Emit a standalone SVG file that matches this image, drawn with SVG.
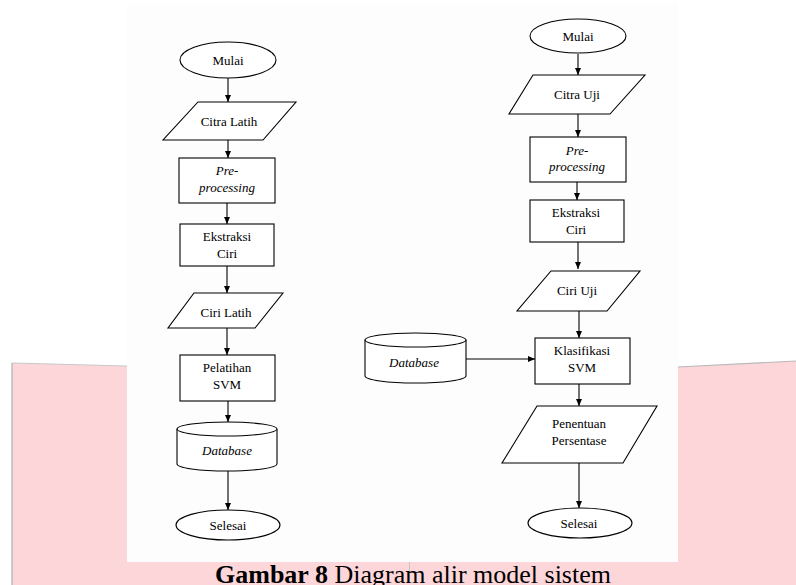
<svg xmlns="http://www.w3.org/2000/svg" width="796" height="585" viewBox="0 0 796 585">
<style>
.s{fill:#fff;stroke:#000;stroke-width:1.1}
.c{fill:none;stroke:#000;stroke-width:1.1}
</style>
<defs>
<marker id="ah" markerUnits="userSpaceOnUse" markerWidth="8" markerHeight="7" refX="7" refY="3" orient="auto">
<path d="M0,0 L7,3 L0,6 z" fill="#000"/>
</marker>
</defs>
<rect x="0" y="0" width="796" height="585" fill="#fff"/>
<g id="page-bg">
<polygon points="12,363 127,366 678,367 796,361 796,585 12,585" fill="#fdd6da"/>
<line x1="12" y1="363" x2="12" y2="585" stroke="#bdbdbd" stroke-width="1.5"/>
<line x1="12" y1="363" x2="127" y2="366" stroke="#c8c8c8" stroke-width="1.2"/>
<line x1="678" y1="367" x2="796" y2="361" stroke="#b8b8b8" stroke-width="1.2"/>
<rect x="127" y="3" width="551" height="559" fill="#fdfdfd"/>
<line x1="409.5" y1="562" x2="409.5" y2="580" stroke="#c4c4c4" stroke-width="1"/>
</g>
<g id="connectors">
<line class="c" x1="228" y1="78" x2="228" y2="102" marker-end="url(#ah)"/>
<line class="c" x1="228" y1="140" x2="228" y2="158" marker-end="url(#ah)"/>
<line class="c" x1="227" y1="203" x2="227" y2="224" marker-end="url(#ah)"/>
<line class="c" x1="227" y1="266" x2="227" y2="293" marker-end="url(#ah)"/>
<line class="c" x1="227" y1="328" x2="227" y2="355" marker-end="url(#ah)"/>
<line class="c" x1="228" y1="401" x2="228" y2="422" marker-end="url(#ah)"/>
<line class="c" x1="228" y1="471" x2="228" y2="510" marker-end="url(#ah)"/>
<line class="c" x1="578" y1="54" x2="578" y2="75" marker-end="url(#ah)"/>
<line class="c" x1="578" y1="114" x2="578" y2="137" marker-end="url(#ah)"/>
<line class="c" x1="577" y1="182" x2="577" y2="200" marker-end="url(#ah)"/>
<line class="c" x1="578" y1="242" x2="578" y2="269" marker-end="url(#ah)"/>
<line class="c" x1="579" y1="311" x2="579" y2="338" marker-end="url(#ah)"/>
<line class="c" x1="579" y1="384" x2="579" y2="406" marker-end="url(#ah)"/>
<line class="c" x1="579" y1="463" x2="579" y2="508" marker-end="url(#ah)"/>
<line class="c" x1="466" y1="359" x2="535" y2="359" marker-end="url(#ah)"/>
</g>
<g font-family="Liberation Serif, Times New Roman, serif" font-size="13" fill="#000" text-anchor="middle">
<g id="l-mulai"><ellipse class="s" cx="228" cy="60" rx="48" ry="18"/><text x="228" y="64.5">Mulai</text></g>
<g id="l-citra"><polygon class="s" points="198,102 296,102 263,140 163,140"/><text x="229" y="125.5">Citra Latih</text></g>
<g id="l-pre"><rect class="s" x="179" y="158" width="96" height="45"/><text font-style="italic" x="227" y="175">Pre-</text><text font-style="italic" x="227" y="192">processing</text></g>
<g id="l-ekstraksi"><rect class="s" x="180" y="224" width="94" height="42"/><text x="227" y="240.5">Ekstraksi</text><text x="227" y="257.5">Ciri</text></g>
<g id="l-ciri"><polygon class="s" points="194,293 283,293 255,328 168,328"/><text x="226" y="316.5">Ciri Latih</text></g>
<g id="l-pelatihan"><rect class="s" x="180" y="355" width="95" height="46"/><text x="227" y="371.5">Pelatihan</text><text x="227" y="388.5">SVM</text></g>
<g id="l-db"><path class="s" d="M177,429 L177,464 A50,7 0 0 0 277,464 L277,429"/><ellipse class="s" cx="227" cy="429" rx="50" ry="7"/><text font-style="italic" x="227" y="455">Database</text></g>
<g id="l-selesai"><ellipse class="s" cx="228" cy="525" rx="52" ry="15"/><text x="228" y="529.5">Selesai</text></g>
<g id="r-mulai"><ellipse class="s" cx="578" cy="36" rx="48" ry="17"/><text x="578" y="40.5">Mulai</text></g>
<g id="r-citra"><polygon class="s" points="533,75 645,75 610,114 509,114"/><text x="577" y="98.5">Citra Uji</text></g>
<g id="r-pre"><rect class="s" x="530" y="137" width="96" height="45"/><text font-style="italic" x="577" y="154.5">Pre-</text><text font-style="italic" x="577" y="171">processing</text></g>
<g id="r-ekstraksi"><rect class="s" x="530" y="200" width="94" height="42"/><text x="576" y="216.5">Ekstraksi</text><text x="576" y="233.5">Ciri</text></g>
<g id="r-ciri"><polygon class="s" points="551,271 640,271 607,311 517,311"/><text x="577" y="294.5">Ciri Uji</text></g>
<g id="r-db"><path class="s" d="M365,340 L365,376 A50.5,7 0 0 0 466,376 L466,340"/><ellipse class="s" cx="415.5" cy="340" rx="50.5" ry="7"/><text font-style="italic" x="414" y="367">Database</text></g>
<g id="r-klasifikasi"><rect class="s" x="535" y="338" width="95" height="46"/><text x="582" y="354.5">Klasifikasi</text><text x="582" y="371.5">SVM</text></g>
<g id="r-penentuan"><polygon class="s" points="537,406 657,406 623,463 502,463"/><text x="579" y="427.5">Penentuan</text><text x="579" y="445">Persentase</text></g>
<g id="r-selesai"><ellipse class="s" cx="580" cy="523" rx="52" ry="15"/><text x="579" y="527.5">Selesai</text></g>
</g>
<g id="caption"><text x="413" y="583" font-family="Liberation Serif, Times New Roman, serif" font-size="26" fill="#000" text-anchor="middle"><tspan font-weight="bold">Gambar 8</tspan> Diagram alir model sistem</text></g>
</svg>
